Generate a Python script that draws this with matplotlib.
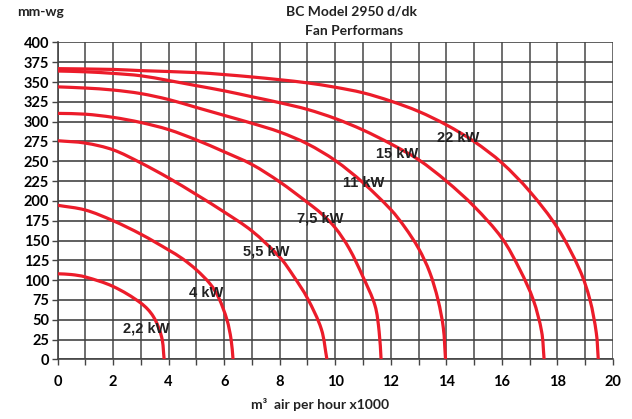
import matplotlib
matplotlib.use("Agg")
import matplotlib.pyplot as plt
from matplotlib.path import Path
from matplotlib.patches import PathPatch
import numpy as np

# ---- data ----
kw_22_x = [0, 2, 3, 5, 6, 7, 8, 9, 10, 11, 12, 13, 14, 15, 16, 17, 18, 18.8, 19.17, 19.4, 19.47]
kw_22_y = [367, 366, 364.5, 362, 359.5, 356.5, 353, 349, 343.5, 336.5, 326, 313, 296, 275, 248, 212, 166, 113, 75, 33, 0]

kw_15_x = [0, 1, 2, 3, 4, 5, 6, 7, 8, 9, 10, 11, 12, 13, 14, 15, 16, 16.65, 17.13, 17.43, 17.52]
kw_15_y = [364, 363, 361, 358, 352, 345.5, 339, 331.5, 324, 315.5, 304, 289.5, 272, 252, 225, 193, 153, 113, 75, 35, 0]

kw_11_x = [0, 1, 2, 3, 4, 5, 6, 7, 8, 9, 10, 11, 12, 12.5, 13, 13.4, 13.7, 13.89, 13.97]
kw_11_y = [344, 342.5, 340, 335.5, 328, 318, 308, 298, 287, 272, 251, 223, 189, 167, 140, 110, 75, 40, 0]

kw_75_x = [0, 1, 2, 3, 4, 5, 6, 7, 8, 9, 9.5, 10, 10.5, 11, 11.43, 11.58, 11.65]
kw_75_y = [310.5, 309.5, 305.5, 299, 290, 277, 262, 246, 224, 198, 184, 166, 140, 104, 68, 35, 0]

kw_55_x = [0, 1, 2, 3, 4, 5, 6, 7, 8, 8.5, 9, 9.5, 9.7]
kw_55_y = [276, 273, 264.5, 248, 229, 208, 186, 162, 129, 105, 77, 38, 0]

kw_4_x = [0, 1, 2, 3, 4, 4.5, 5, 5.5, 5.8, 6.1, 6.25, 6.32]
kw_4_y = [194.5, 188.5, 175, 158, 138, 127, 113, 95, 78, 50, 25, 0]

kw_22b_x = [0, 0.5, 1, 2, 3, 3.45, 3.75, 3.84]
kw_22b_y = [108, 107, 104, 92, 71, 54, 28, 0]

curves = [
    (kw_22_x, kw_22_y), (kw_15_x, kw_15_y), (kw_11_x, kw_11_y),
    (kw_75_x, kw_75_y), (kw_55_x, kw_55_y), (kw_4_x, kw_4_y), (kw_22b_x, kw_22b_y),
]

label_texts = ["22 kW", "15 kW", "11 kW", "7,5 kW", "5,5 kW", "4 kW", "2,2 kW"]
label_x = [14.42, 12.21, 11.03, 9.45, 7.52, 5.36, 3.19]
label_y = [280, 259, 223, 178, 136, 84, 39.5]

x_ticks = list(range(0, 21, 2))
y_ticks = list(range(0, 401, 25))

# ---- figure ----
W, H = 632, 419
fig = plt.figure(figsize=(W / 100, H / 100), dpi=100)
ax = fig.add_axes([57.5 / W, 1 - 359.3 / H, (613 - 57.5) / W, (359.3 - 42.5) / H])

tick_font = dict(family=["Lato", "DejaVu Sans"], weight="bold", size=10.5)

ax.set_xlim(0, 20)
ax.set_ylim(0, 400)
ax.set_xticks(x_ticks)
ax.set_xticks(range(0, 21), minor=True)
ax.set_yticks(y_ticks)
ax.set_xticklabels([str(v) for v in x_ticks], **tick_font)
ax.set_yticklabels([str(v) for v in y_ticks], **tick_font)
ax.tick_params(axis="x", which="both", length=4, width=1, color="#444444", pad=7)
ax.tick_params(axis="y", which="both", length=4, width=1, color="#444444", pad=2)

ax.grid(True, which="both", axis="x", color="#555555", linewidth=1.2)
ax.grid(True, which="major", axis="y", color="#444444", linewidth=1.2)
ax.set_axisbelow(True)
for s in ["top", "right"]:
    ax.spines[s].set_visible(False)
for s in ["left", "bottom"]:
    ax.spines[s].set_color("#444444")
    ax.spines[s].set_linewidth(1.2)


def smooth_path(xs, ys):
    """Catmull-Rom curve through the read points, drawn as cubic Bezier segments."""
    sx = ax.bbox.width / 20.0
    sy = ax.bbox.height / 400.0
    p = np.column_stack([np.asarray(xs, float) * sx, np.asarray(ys, float) * sy])
    n = len(p)
    verts = [p[0]]
    codes = [Path.MOVETO]
    for i in range(n - 1):
        p0 = p[i - 1] if i > 0 else p[i]
        p1 = p[i]
        p2 = p[i + 1]
        p3 = p[i + 2] if i + 2 < n else p[i + 1]
        d1 = np.linalg.norm(p2 - p1)
        da = np.linalg.norm(p2 - p0) or 1.0
        db = np.linalg.norm(p3 - p1) or 1.0
        c1 = p1 + (p2 - p0) * (d1 / da) / 3.0
        c2 = p2 - (p3 - p1) * (d1 / db) / 3.0
        verts += [c1, c2, p2]
        codes += [Path.CURVE4] * 3
    v = np.array(verts)
    v[:, 0] /= sx
    v[:, 1] /= sy
    return Path(v, codes)


for xs, ys in curves:
    patch = PathPatch(smooth_path(xs, ys), facecolor="none", edgecolor="#EC1C2A",
                      linewidth=2.3, capstyle="butt", zorder=3, transform=ax.transData)
    ax.add_patch(patch)

for t, lx, ly in zip(label_texts, label_x, label_y):
    ax.text(lx, ly, t, ha="center", va="center", fontsize=10.5, fontweight="bold",
            family=["Liberation Sans", "DejaVu Sans"], color="#222222", zorder=4)

title_font = dict(family=["Lato", "DejaVu Sans"], weight="bold", size=10, color="#222222")
fig.text(352 / W, 1 - 12 / H, "BC Model 2950 d/dk", ha="center", va="center", **title_font)
fig.text(354 / W, 1 - 31 / H, "Fan Performans", ha="center", va="center", **title_font)
fig.text(40 / W, 1 - 12 / H, "mm-wg", ha="center", va="center", **title_font)
fig.text(320 / W, 1 - 404 / H, "m³  air per hour x1000", ha="center", va="center", **title_font)

fig.savefig("out.png", dpi=100)
